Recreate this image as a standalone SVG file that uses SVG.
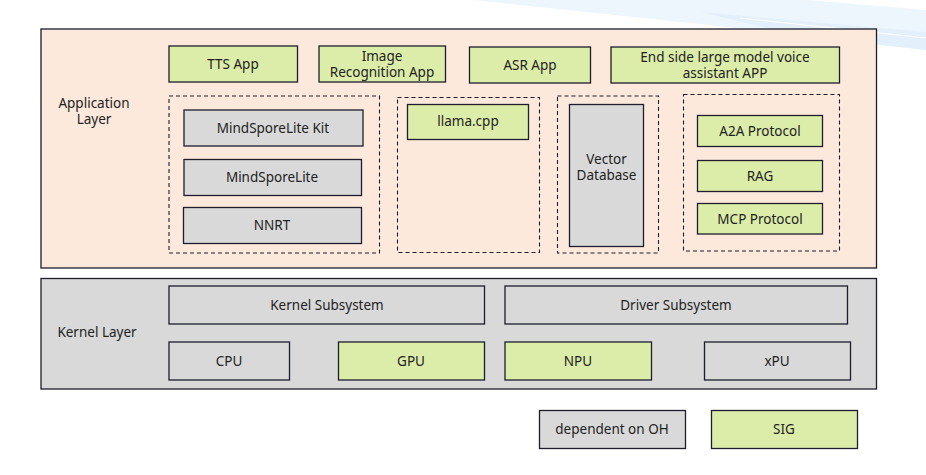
<svg xmlns="http://www.w3.org/2000/svg" width="926" height="475" viewBox="0 0 926 475">
<style>
text{font-family:"Noto Sans","Open Sans","Liberation Sans",sans-serif;font-size:13.5px;fill:#222;text-anchor:middle;dominant-baseline:central}
.green{fill:#dcedaa;stroke:#1d1d2b;stroke-width:1.3}
.grey{fill:#d9d9d9;stroke:#1d1d2b;stroke-width:1.3}
.dash{fill:none;stroke:#1d1d2b;stroke-width:1.1;stroke-dasharray:4 3}
.layer{stroke:#1d1d2b;stroke-width:1.3}
</style>
<rect width="926" height="475" fill="#ffffff"/>
<g id="decoration">
<polygon points="473,0 807,0 926,10 926,50 700,24" fill="#eef6fd"/>
<polygon points="700,12 926,32 926,50 800,36" fill="#e3f0fb"/>
<line x1="740" y1="18" x2="926" y2="38" stroke="#ffffff" stroke-width="1"/>
</g>
<g id="application-layer">
<rect class="layer" x="41" y="29" width="835.5" height="239" fill="#fde9dc"/>
<text x="94" y="103">Application</text>
<text x="94" y="119">Layer</text>
</g>
<g id="kernel-layer">
<rect class="layer" x="41" y="278.5" width="835.5" height="110.5" fill="#d9d9d9"/>
<text x="97" y="332">Kernel Layer</text>
</g>
<g id="tts-app"><rect class="green" x="169" y="46" width="128.5" height="36"/><text x="233" y="64">TTS App</text></g>
<g id="image-recognition-app"><rect class="green" x="319" y="46" width="126.5" height="36"/><text x="382" y="56">Image</text><text x="382" y="72">Recognition App</text></g>
<g id="asr-app"><rect class="green" x="469.5" y="47" width="121" height="36"/><text x="530" y="65">ASR App</text></g>
<g id="voice-assistant-app"><rect class="green" x="611" y="47" width="228.5" height="36"/><text x="725" y="57">End side large model voice</text><text x="725" y="73">assistant APP</text></g>
<g id="group-mindspore"><rect class="dash" x="169" y="96" width="210.5" height="157"/></g>
<g id="mindsporelite-kit"><rect class="grey" x="184" y="110" width="179" height="36"/><text x="273" y="128">MindSporeLite Kit</text></g>
<g id="mindsporelite"><rect class="grey" x="184" y="159.5" width="177.5" height="36"/><text x="272" y="177">MindSporeLite</text></g>
<g id="nnrt"><rect class="grey" x="183.5" y="207.5" width="178" height="36"/><text x="272" y="225">NNRT</text></g>
<g id="group-llama"><rect class="dash" x="397.5" y="97.5" width="142" height="155"/></g>
<g id="llama-cpp"><rect class="green" x="407.5" y="104.5" width="121" height="35"/><text x="468" y="121">llama.cpp</text></g>
<g id="group-vector"><rect class="dash" x="557.5" y="96" width="101" height="157"/></g>
<g id="vector-database"><rect class="grey" x="569.5" y="104.5" width="74" height="142"/><text x="606.5" y="159">Vector</text><text x="606.5" y="175">Database</text></g>
<g id="group-protocols"><rect class="dash" x="683.5" y="94.5" width="156" height="156.5"/></g>
<g id="a2a-protocol"><rect class="green" x="697.5" y="115.5" width="125" height="31"/><text x="760" y="131">A2A Protocol</text></g>
<g id="rag"><rect class="green" x="697.5" y="160.5" width="125" height="31"/><text x="760" y="176">RAG</text></g>
<g id="mcp-protocol"><rect class="green" x="697.5" y="203.5" width="125" height="30.5"/><text x="760" y="219">MCP Protocol</text></g>
<g id="kernel-subsystem"><rect class="grey" x="169" y="286" width="315.5" height="38"/><text x="327" y="305">Kernel Subsystem</text></g>
<g id="driver-subsystem"><rect class="grey" x="505" y="286" width="342.5" height="38"/><text x="676" y="305">Driver Subsystem</text></g>
<g id="cpu"><rect class="grey" x="169" y="342" width="120.5" height="38"/><text x="229" y="361">CPU</text></g>
<g id="gpu"><rect class="green" x="338.5" y="342" width="146" height="38"/><text x="411" y="361">GPU</text></g>
<g id="npu"><rect class="green" x="505" y="342" width="146.5" height="38"/><text x="578" y="361">NPU</text></g>
<g id="xpu"><rect class="grey" x="704.5" y="342" width="146" height="38"/><text x="777" y="361">xPU</text></g>
<g id="legend-oh"><rect class="grey" x="539.5" y="410.5" width="146" height="38"/><text x="612" y="429">dependent on OH</text></g>
<g id="legend-sig"><rect class="green" x="711.5" y="410.5" width="146" height="38"/><text x="784" y="429">SIG</text></g>
<g id="connectors"></g>
</svg>
